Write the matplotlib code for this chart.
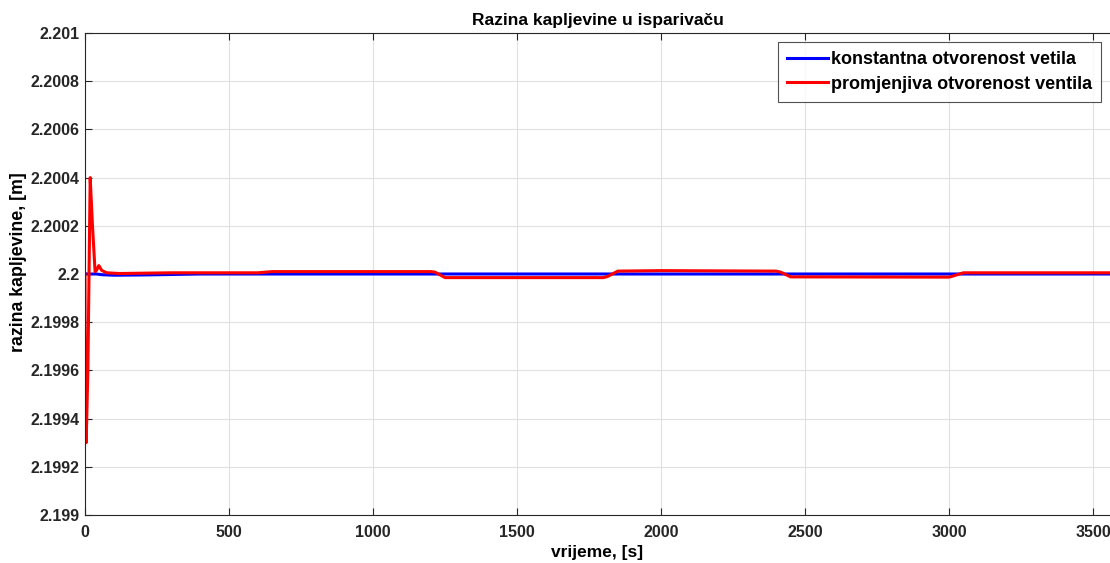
import matplotlib
matplotlib.use("Agg")
import matplotlib.pyplot as plt

plt.rcParams['font.family'] = ['Liberation Sans', 'DejaVu Sans']

# Data (time in s, level in m)
t_const = [0, 40, 60, 100, 200, 400, 3560]
y_const = [2.2, 2.2, 2.199997, 2.199995, 2.199996, 2.2, 2.2]

t_var = [0, 1, 4, 10, 18, 26, 35, 40, 48, 58, 75, 120, 300, 600, 650, 1200,
         1215, 1250, 1400, 1800, 1815, 1850, 2000, 2400, 2415, 2450, 3000,
         3015, 3050, 3560]
y_var = [2.2, 2.1995, 2.1993, 2.1996, 2.2004, 2.2002, 2.20001, 2.200015,
         2.200035, 2.200015, 2.200005, 2.200002, 2.200005, 2.200005, 2.20001,
         2.20001, 2.200008, 2.199985, 2.199985, 2.199985, 2.19999, 2.200012,
         2.200014, 2.200012, 2.200008, 2.199988, 2.199987, 2.199992,
         2.200005, 2.200005]

xticks = [0, 500, 1000, 1500, 2000, 2500, 3000, 3500]
yticks = [2.199, 2.1992, 2.1994, 2.1996, 2.1998, 2.2, 2.2002, 2.2004,
          2.2006, 2.2008, 2.201]
ytick_labels = ['2.199', '2.1992', '2.1994', '2.1996', '2.1998', '2.2',
                '2.2002', '2.2004', '2.2006', '2.2008', '2.201']

fig = plt.figure(figsize=(11.1, 5.63), dpi=100)
ax = fig.add_axes([85/1110, 1 - 515/563, 1 - 85/1110, (515 - 33)/563])

ax.plot(t_const, y_const, color='#0000ff', lw=2.2,
        label='konstantna otvorenost vetila')
ax.plot(t_var, y_var, color='#ff0000', lw=2.2,
        label='promjenjiva otvorenost ventila')

ax.set_xlim(0, 3559)
ax.set_ylim(2.199, 2.201)
ax.set_xticks(xticks)
ax.set_xticklabels([str(x) for x in xticks])
ax.set_yticks(yticks)
ax.set_yticklabels(ytick_labels)
ax.grid(True, color='#e0e0e0', lw=0.8)
ax.set_axisbelow(True)
ax.tick_params(direction='in', length=5, labelsize=11.5, width=0.8,
               colors='#262626', top=True, right=False, pad=4)
ax.tick_params(axis='x', pad=7)
for lbl in ax.get_xticklabels() + ax.get_yticklabels():
    lbl.set_fontweight('bold')
for s in ['left', 'bottom', 'top']:
    ax.spines[s].set_color('#262626')
    ax.spines[s].set_linewidth(0.8)
ax.spines['right'].set_visible(False)

ax.set_title('Razina kapljevine u isparivaču', fontsize=12.5, fontweight='bold',
             color='#000000', pad=6)
ax.set_xlabel('vrijeme, [s]', fontsize=12.5, fontweight='bold', labelpad=4)
ax.set_ylabel('razina kapljevine, [m]', fontsize=12.8, fontweight='bold')
ax.yaxis.set_label_coords((27 - 85) / 1025, 0.525)

leg = ax.legend(loc='upper right', frameon=True, fancybox=False,
                edgecolor='#262626', handlelength=2.3, handletextpad=0.15,
                borderpad=0.5, labelspacing=0.42, borderaxespad=0.5,
                prop={'weight': 'bold', 'size': 13})
leg.get_frame().set_linewidth(0.8)

fig.savefig('out.png', dpi=100)
